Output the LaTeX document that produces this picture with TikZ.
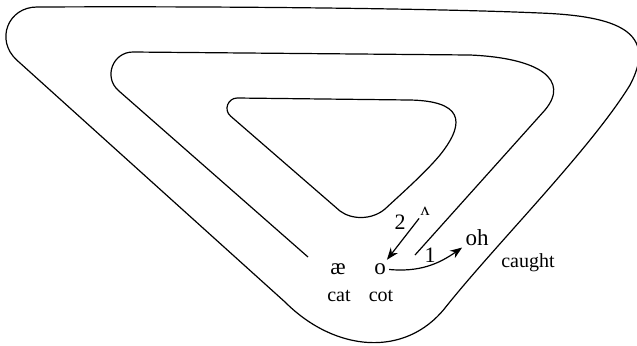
\documentclass[tikz,border=0pt]{standalone}
\usepackage{fontspec}
\setmainfont{Liberation Serif}
\usetikzlibrary{arrows.meta}

\tikzset{
  contour/.style={line width=0.6pt},
  vowel/.style={font=\fontsize{11.5}{13}\selectfont, anchor=base, inner sep=1.5pt},
  word/.style={font=\fontsize{10}{12}\selectfont, anchor=base},
  steplabel/.style={font=\fontsize{11}{13}\selectfont, anchor=base},
  shiftarrow/.style={line width=0.6pt, -{Stealth[length=6pt,width=4.5pt]}},
}

\begin{document}
\begin{tikzpicture}[x=0.5pt,y=0.5pt]
\useasboundingbox (0,0) rectangle (637,-345);
% outer contour
\draw[contour] (37,-7) .. controls (250,-6) and (450,-9) .. (540,-13)
  .. controls (618,-16) and (658,-32) .. (630,-85)
  .. controls (590,-150) and (495,-245) .. (445,-308)
  .. controls (405,-358) and (335,-352) .. (285,-302)
  -- (16.7,-60)
  .. controls (-5,-40) and (8,-7) .. (37,-7) -- cycle;
% middle contour, open at the bottom
\draw[contour] (308,-257) -- (118.5,-90.6)
  .. controls (103.2,-77.2) and (112.7,-52) .. (133,-52)
  -- (470,-55)
  .. controls (540,-58) and (570,-80) .. (545,-110)
  -- (415,-255);
% inner contour
\draw[contour] (237.3,-98) -- (410,-100)
  .. controls (460,-101) and (468,-120) .. (440,-155)
  .. controls (425,-173) and (400,-195) .. (385,-209)
  .. controls (372,-220) and (352,-220) .. (340,-211)
  -- (230.6,-116.1)
  .. controls (223.3,-109.9) and (227.8,-98) .. (237.3,-98) -- cycle;

\node[vowel] (ae) at (338,-274) {æ};
\node[vowel] (o) at (380,-274) {o};
\node[vowel] (oh) at (477,-245) {oh};
\node[font=\fontsize{9}{10}\selectfont, anchor=base, inner sep=1.5pt] (wedge) at (425,-215) {ʌ};
\node[word] (cat) at (339,-301) {cat};
\node[word] (cot) at (381,-301) {cot};
\node[word] (caught) at (528,-267) {caught};
\node[steplabel] (two) at (400,-229) {2};
\node[steplabel] (one) at (430,-262) {1};

\draw[shiftarrow] (wedge) -- (o);
\draw[shiftarrow] (o) to[out=-5,in=215] (oh);
\end{tikzpicture}
\end{document}
